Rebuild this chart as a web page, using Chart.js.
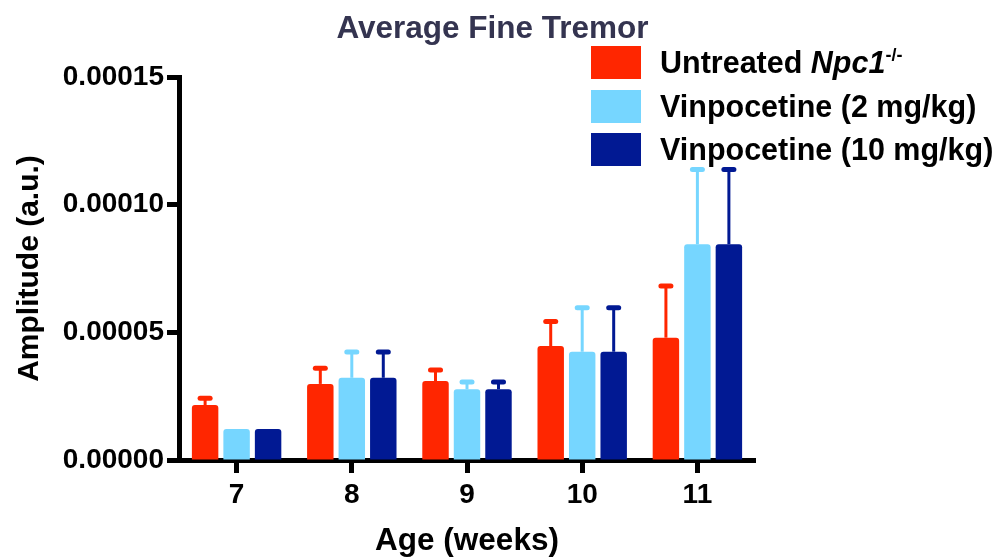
<!DOCTYPE html>
<html>
<head>
<meta charset="utf-8">
<script src="https://cdn.jsdelivr.net/npm/chart.js@4.4.1/dist/chart.umd.min.js"></script>
<style>
  html, body { margin: 0; padding: 0; background: #fff; }
  #wrap { position: relative; width: 995px; height: 557px; }
  .legend { position: absolute; left: 591px; top: 41px; font: bold 30.5px "Liberation Sans", Arial, sans-serif; color: #000; }
  .legend .row { display: flex; align-items: center; height: 43.5px; }
  .legend .box { width: 50px; height: 33px; margin-right: 19px; flex: none; }
  .legend sup { font-size: 18px; vertical-align: 12px; line-height: 0; }
</style>
</head>
<body>
<div id="wrap">
  <canvas id="tremorChart"></canvas>
  <div class="legend">
    <div class="row"><div class="box" style="background:#ff2600"></div><span>Untreated <i>Npc1</i><sup>-/-</sup></span></div>
    <div class="row"><div class="box" style="background:#76d6ff"></div><span>Vinpocetine (2 mg/kg)</span></div>
    <div class="row"><div class="box" style="background:#011993"></div><span>Vinpocetine (10 mg/kg)</span></div>
  </div>
</div>
<script>
// dados
const weeks = ['7', '8', '9', '10', '11'];
const untreated = [2.15e-5, 2.98e-5, 3.09e-5, 4.46e-5, 4.79e-5];
const untreatedErr = [0.27e-5, 0.61e-5, 0.43e-5, 0.96e-5, 2.02e-5];
const vinpo2 = [1.21e-5, 3.22e-5, 2.77e-5, 4.24e-5, 8.45e-5];
const vinpo2Err = [0, 1.01e-5, 0.28e-5, 1.72e-5, 2.93e-5];
const vinpo10 = [1.21e-5, 3.22e-5, 2.77e-5, 4.24e-5, 8.45e-5];
const vinpo10Err = [0, 1.01e-5, 0.28e-5, 1.72e-5, 2.93e-5];
const yTickValues = [0, 0.00005, 0.0001, 0.00015];
const yTickLabels = ['0.00000', '0.00005', '0.00010', '0.00015'];

const FONT = '"Liberation Sans", Arial, sans-serif';

// barras de erro (só para cima), desenhadas com as escalas do Chart.js
const errorBars = {
    id: 'errorBars',
    afterDatasetsDraw(chart) {
        const ctx = chart.ctx;
        const yScale = chart.scales.y;
        chart.data.datasets.forEach((ds, i) => {
            const meta = chart.getDatasetMeta(i);
            meta.data.forEach((bar, j) => {
                const err = ds.errors[j];
                if (!err) return;
                const x = bar.x;
                const yTop = yScale.getPixelForValue(ds.data[j] + err);
                ctx.save();
                ctx.strokeStyle = ds.backgroundColor;
                ctx.lineWidth = 3;
                ctx.beginPath();
                ctx.moveTo(x, bar.y);
                ctx.lineTo(x, yTop);
                ctx.stroke();
                ctx.lineWidth = 5;
                ctx.lineCap = 'round';
                ctx.beginPath();
                ctx.moveTo(x - 5, yTop);
                ctx.lineTo(x + 5, yTop);
                ctx.stroke();
                ctx.restore();
            });
        });
    }
};

new Chart(document.getElementById('tremorChart').getContext('2d'), {
    type: 'bar',
    data: {
        labels: weeks,
        datasets: [
            { label: 'Untreated Npc1-/-', data: untreated, errors: untreatedErr, backgroundColor: '#ff2600' },
            { label: 'Vinpocetine (2 mg/kg)', data: vinpo2, errors: vinpo2Err, backgroundColor: '#76d6ff' },
            { label: 'Vinpocetine (10 mg/kg)', data: vinpo10, errors: vinpo10Err, backgroundColor: '#011993' }
        ]
    },
    options: {
        responsive: true,
        maintainAspectRatio: false,
        animation: false,
        datasets: {
            bar: { categoryPercentage: 0.82, barPercentage: 0.84, borderRadius: { topLeft: 3, topRight: 3 }, borderSkipped: 'bottom' }
        },
        layout: { padding: { left: 0, right: 10, top: 0, bottom: 0 } },
        plugins: {
            legend: { display: false },
            tooltip: { enabled: false },
            title: {
                display: true,
                text: 'Average Fine Tremor',
                color: '#343450',
                font: { family: FONT, size: 31.5, weight: 'bold' },
                padding: { top: 10, bottom: 29.2 }
            }
        },
        scales: {
            x: {
                grid: { display: true, drawOnChartArea: false, offset: false, tickLength: 13, tickWidth: 5, tickColor: '#000' },
                border: { display: true, width: 5, color: '#000' },
                ticks: { color: '#000', padding: 5, font: { family: FONT, size: 28, weight: 'bold' } },
                title: { display: true, text: 'Age (weeks)', color: '#000', padding: { top: 0, bottom: -3 }, font: { family: FONT, size: 31.5, weight: 'bold' } },
                afterFit(scale) { scale.height = 97; }
            },
            y: {
                min: 0,
                max: 0.00015,
                grid: { display: true, drawOnChartArea: false, tickLength: 12, tickWidth: 5, tickColor: '#000' },
                border: { display: true, width: 5, color: '#000' },
                afterBuildTicks(scale) { scale.ticks = yTickValues.map(v => ({ value: v })); },
                ticks: {
                    color: '#000',
                    padding: 3,
                    font: { family: FONT, size: 28, weight: 'bold' },
                    callback: (v, i) => yTickLabels[i]
                },
                title: { display: true, text: 'Amplitude (a.u.)', color: '#000', padding: { top: 12, bottom: 0 }, font: { family: FONT, size: 30, weight: 'bold' } },
                afterFit(scale) { scale.width = 179; }
            },
            // eixo vazio à direita: reserva o espaço onde fica a legenda
            yRight: {
                position: 'right',
                display: true,
                grid: { display: false },
                border: { display: false },
                ticks: { display: false },
                afterFit(scale) { scale.width = 230; }
            }
        }
    },
    plugins: [errorBars]
});
</script>
</body>
</html>
